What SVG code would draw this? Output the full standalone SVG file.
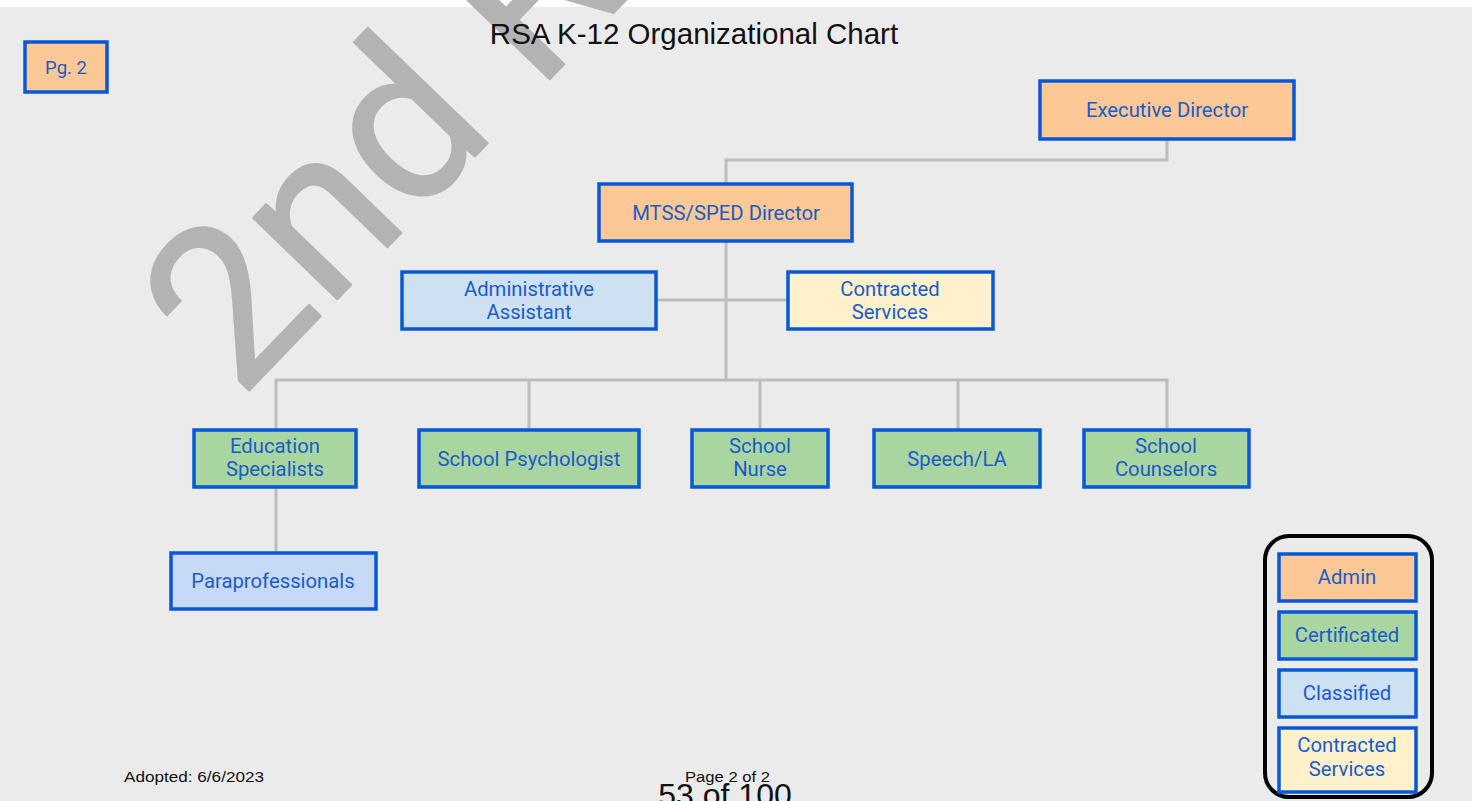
<svg xmlns="http://www.w3.org/2000/svg" width="1472" height="801" viewBox="0 0 1472 801">
<style>
.box{stroke:#0757d6;stroke-width:3.5}
.adm{fill:#fcc895}
.cert{fill:#a9d5a0}
.cls{fill:#cde1f3}
.para{fill:#c6d9f6}
.con{fill:#fff1cb}
.lbl{font-family:Roboto,"Liberation Sans",sans-serif;font-size:20.3px;fill:#1b5cc8;text-anchor:middle}
.conn{stroke:#bdbdbd;stroke-width:3;fill:none}
.foot{font-family:"Liberation Sans",Arial,sans-serif;fill:#111}
</style>
<rect x="0" y="0" width="1472" height="801" fill="#ffffff"/>
<rect x="0" y="7" width="1472" height="794" fill="#ebebeb"/>
<text x="240" y="400" transform="rotate(-46 240 400)" font-family="Roboto,'Liberation Sans',sans-serif" font-size="222" fill="#b3b3b3" stroke="#b3b3b3" stroke-width="2" stroke-linejoin="round">2nd Reading</text>
<text x="694" y="44" font-family="'Liberation Sans',Arial,sans-serif" font-size="29.5" fill="#111" text-anchor="middle">RSA K-12 Organizational Chart</text>
<g id="connectors">
<path class="conn" d="M1167 140 V160 H726 V183"/>
<path class="conn" d="M726 242 V380"/>
<path class="conn" d="M656 300 H787"/>
<path class="conn" d="M276 429 V380 H1167 V429"/>
<path class="conn" d="M529 380 V429 M760 380 V429 M958 380 V429"/>
<path class="conn" d="M276 488 V552"/>
</g>
<g id="pg2"><rect class="box adm" x="25" y="42" width="82" height="50"/><text class="lbl" x="66" y="74" style="font-size:18.5px">Pg. 2</text></g>
<g id="exec"><rect class="box adm" x="1040" y="81" width="254" height="58"/><text class="lbl" x="1167" y="117">Executive Director</text></g>
<g id="mtss"><rect class="box adm" x="599" y="184" width="253" height="57"/><text class="lbl" x="726" y="220">MTSS/SPED Director</text></g>
<g id="adminasst"><rect class="box cls" x="402" y="272" width="254" height="57"/><text class="lbl" x="529" y="296">Administrative</text><text class="lbl" x="529" y="319">Assistant</text></g>
<g id="contracted"><rect class="box con" x="788" y="272" width="205" height="57"/><text class="lbl" x="890" y="296">Contracted</text><text class="lbl" x="890" y="319">Services</text></g>
<g id="edspec"><rect class="box cert" x="194" y="430" width="162" height="57"/><text class="lbl" x="275" y="453">Education</text><text class="lbl" x="275" y="476">Specialists</text></g>
<g id="psych"><rect class="box cert" x="419" y="430" width="220" height="57"/><text class="lbl" x="529" y="466">School Psychologist</text></g>
<g id="nurse"><rect class="box cert" x="692" y="430" width="136" height="57"/><text class="lbl" x="760" y="453">School</text><text class="lbl" x="760" y="476">Nurse</text></g>
<g id="speech"><rect class="box cert" x="874" y="430" width="166" height="57"/><text class="lbl" x="957" y="466">Speech/LA</text></g>
<g id="counselors"><rect class="box cert" x="1084" y="430" width="165" height="57"/><text class="lbl" x="1166" y="453">School</text><text class="lbl" x="1166" y="476">Counselors</text></g>
<g id="para"><rect class="box para" x="171" y="553" width="205" height="56"/><text class="lbl" x="273" y="588">Paraprofessionals</text></g>
<g id="legend">
<rect x="1265" y="536" width="167" height="261" rx="24" ry="24" fill="none" stroke="#000" stroke-width="4"/>
<rect class="box adm" x="1279" y="554" width="137" height="47"/><text class="lbl" x="1347" y="584">Admin</text>
<rect class="box cert" x="1279" y="612" width="137" height="47"/><text class="lbl" x="1347" y="642">Certificated</text>
<rect class="box cls" x="1279" y="670" width="137" height="47"/><text class="lbl" x="1347" y="700">Classified</text>
<rect class="box con" x="1279" y="728" width="137" height="64"/><text class="lbl" x="1347" y="752">Contracted</text><text class="lbl" x="1347" y="776">Services</text>
</g>
<text class="foot" x="124" y="782" font-size="15.5" textLength="140" lengthAdjust="spacingAndGlyphs">Adopted: 6/6/2023</text>
<text class="foot" x="685" y="782" font-size="15.5" textLength="85" lengthAdjust="spacingAndGlyphs">Page 2 of 2</text>
<text class="foot" x="725" y="806" font-size="32" text-anchor="middle">53 of 100</text>
</svg>
